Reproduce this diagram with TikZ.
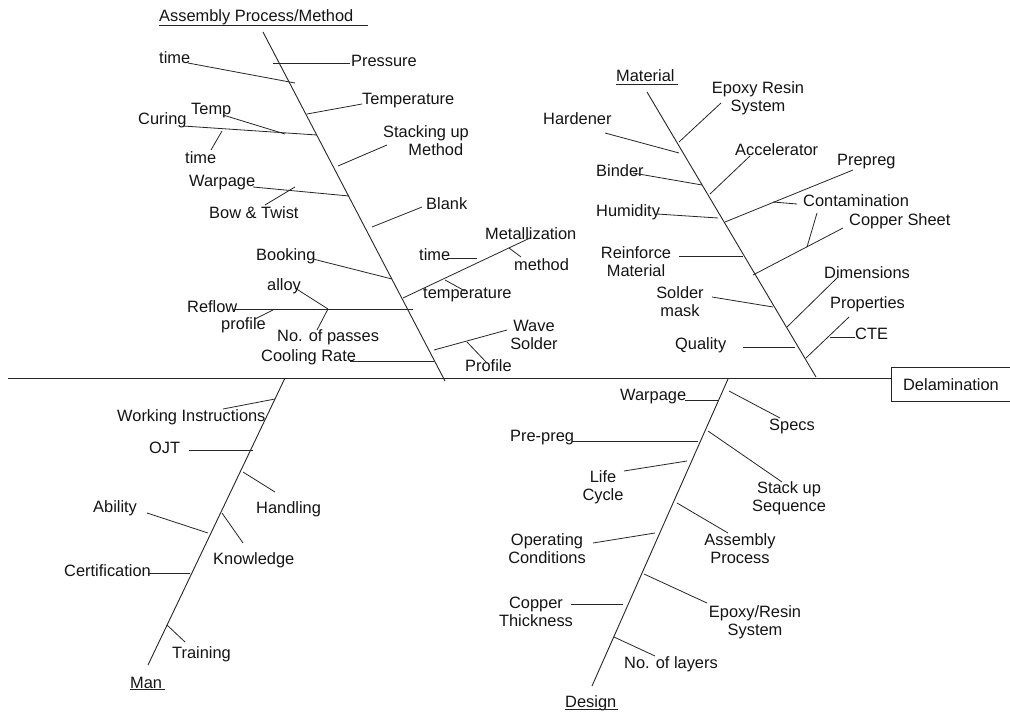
\documentclass[tikz,border=0pt]{standalone}
\usepackage{fontspec}
\setmainfont{Liberation Sans}
\begin{document}
\begin{tikzpicture}[x=1pt,y=-1pt,
  bone/.style={draw=black!85, line width=0.9pt},
  twig/.style={draw=black!85, line width=0.8pt},
  lbl/.style={inner sep=0pt, anchor=west, text=black!92, font=\fontsize{16.4}{18}\selectfont},
  lblc/.style={inner sep=0pt, anchor=center, align=center, text=black!92, font=\fontsize{16.4}{18}\selectfont}]
\useasboundingbox (0,0) rectangle (1010,712);
\fill[white] (0,0) rectangle (1010,712);

% head box and spine
\node[lblc] (head) at (951,385) {Delamination};
\draw[bone] (1012,367) -- (891,367) -- (891,401) -- (1012,401);
\coordinate (tail) at (8,378);
\coordinate (headL) at (891,378);
\draw[bone] (tail) -- (headL);

% ===== Assembly Process/Method =====
\node[lbl] (tAPM) at (159,17) {Assembly Process/Method};
\draw[twig] (159,25) -- (368,25);
\coordinate (apmTop) at (263,32);
\coordinate (apmBot) at (445,381);
\draw[bone] (apmTop) -- (apmBot);

\node[lbl] (time1) at (159,58) {time};
\draw[twig] (188,63) -- (295,83);
\node[lbl] (pressure) at (351,61) {Pressure};
\draw[twig] (273,63) -- (350,63);
\node[lbl] (temperature) at (362,101) {Temperature};
\draw[twig] (307,114) -- (362,104);
\node[lbl] (curing) at (138,120) {Curing};
\draw[twig] (183,126) -- (317,135);
\node[lbl] (temp) at (191,111) {Temp};
\draw[twig] (223,115) -- (285,134);
\node[lbl] (time2) at (185,158) {time};
\draw[twig] (222,131) -- (211,150);
\node[lblc] (stacking) at (426,141) {Stacking up\\\hspace*{1.2em}Method};
\draw[twig] (338,166) -- (387,145);
\node[lbl] (warpage1) at (189,183) {Warpage};
\draw[twig] (253,187) -- (349,196);
\node[lbl] (bow) at (209,213) {Bow \& Twist};
\draw[twig] (295,187) -- (265,205);
\node[lbl] (blank) at (426,204) {Blank};
\draw[twig] (372,227) -- (422,207);
\node[lbl] (booking) at (256,256) {Booking};
\draw[twig] (313,259) -- (392,279);
\node[lbl] (metal) at (485,234) {Metallization};
\draw[twig] (403,298) -- (530,238);
\node[lbl] (time3) at (419,255) {time};
\draw[twig] (447,258) -- (477,258);
\node[lbl] (method) at (514,265) {method};
\draw[twig] (509,248) -- (521,257);
\node[lbl] (temperature2) at (423,295) {temperature};
\draw[twig] (445,280) -- (465,291);
\node[lbl] (reflow) at (187,307) {Reflow};
\draw[twig] (233,309) -- (413,309);
\node[lbl] (alloy) at (267,286) {alloy};
\draw[twig] (295,288) -- (328,309);
\node[lbl] (passes) at (277,337) {No. of passes};
\draw[twig] (328,309) -- (317,330);
\node[lbl] (profile1) at (221,325) {profile};
\draw[twig] (273,310) -- (255,319);
\node[lblc] (wave) at (534,335) {Wave\\Solder};
\draw[twig] (434,350) -- (507,330);
\node[lbl] (profile2) at (465,366) {Profile};
\draw[twig] (467,342) -- (487,363);
\node[lbl] (cooling) at (261,357) {Cooling Rate};
\draw[twig] (350,361) -- (434,361);

% ===== Material =====
\node[lbl] (tMat) at (616,76) {Material};
\draw[twig] (616,84) -- (678,84);
\coordinate (matTop) at (647,92);
\coordinate (matBot) at (816,377);
\draw[bone] (matTop) -- (matBot);

\node[lblc] (epoxy) at (758,98) {Epoxy Resin\\System};
\draw[twig] (679,142) -- (721,103);
\node[lbl] (hardener) at (543,119) {Hardener};
\draw[twig] (605,133) -- (679,153);
\node[lbl] (accel) at (735,150) {Accelerator};
\draw[twig] (710,194) -- (750,156);
\node[lbl] (binder) at (596,171) {Binder};
\draw[twig] (633,173) -- (702,185);
\node[lbl] (prepreg) at (837,162) {Prepreg};
\draw[twig] (725,222) -- (853,170);
\node[lbl] (contam) at (803,201) {Contamination};
\draw[twig] (773,202) -- (797,204);
\node[lbl] (humidity) at (596,212) {Humidity};
\draw[twig] (657,214) -- (718,218);
\node[lbl] (copper) at (849,221) {Copper Sheet};
\draw[twig] (753,275) -- (843,228);
\draw[twig] (817,213) -- (807,247);
\node[lblc] (reinforce) at (636,262) {Reinforce\\Material};
\draw[twig] (679,256) -- (743,256);
\node[lblc] (solder) at (680,302) {Solder\\mask};
\draw[twig] (712,297) -- (773,307);
\node[lbl] (dims) at (824,273) {Dimensions};
\draw[twig] (787,327) -- (837,278);
\node[lbl] (props) at (830,304) {Properties};
\draw[twig] (806,358) -- (849,317);
\node[lbl] (cte) at (855,334) {CTE};
\draw[twig] (830,337) -- (855,337);
\node[lbl] (quality) at (675,345) {Quality};
\draw[twig] (743,347) -- (795,347);

% ===== Man =====
\node[lbl] (tMan) at (130,683) {Man};
\draw[twig] (130,689) -- (165,689);
\coordinate (manTop) at (285,378);
\coordinate (manBot) at (148,665);
\draw[bone] (manTop) -- (manBot);

\node[lbl] (wi) at (117,417) {Working Instructions};
\draw[twig] (223,409) -- (275,399);
\node[lbl] (ojt) at (149,448) {OJT};
\draw[twig] (189,450) -- (253,450);
\node[lbl] (handling) at (256,509) {Handling};
\draw[twig] (243,472) -- (275,492);
\node[lbl] (ability) at (93,508) {Ability};
\draw[twig] (147,513) -- (208,533);
\node[lbl] (knowledge) at (213,560) {Knowledge};
\draw[twig] (222,513) -- (243,543);
\node[lbl] (cert) at (64,571) {Certification};
\draw[twig] (148,573) -- (190,573);
\node[lbl] (training) at (172,654) {Training};
\draw[twig] (167,625) -- (185,642);

% ===== Design =====
\node[lbl] (tDes) at (565,703) {Design};
\draw[twig] (565,709) -- (618,709);
\coordinate (desTop) at (728,379);
\coordinate (desBot) at (592,686);
\draw[bone] (desTop) -- (desBot);

\node[lbl] (warpage2) at (620,397) {Warpage};
\draw[twig] (685,400) -- (718,400);
\node[lbl] (specs) at (769,426) {Specs};
\draw[twig] (729,391) -- (780,418);
\node[lbl] (prepreg2) at (510,438) {Pre-preg};
\draw[twig] (572,441) -- (698,441);
\node[lblc] (stackup) at (789,498) {Stack up\\Sequence};
\draw[twig] (708,431) -- (782,482);
\node[lblc] (life) at (603,487) {Life\\Cycle};
\draw[twig] (624,471) -- (687,461);
\node[lblc] (asmproc) at (740,549) {Assembly\\Process};
\draw[twig] (677,503) -- (728,533);
\node[lblc] (opcond) at (547,549) {Operating\\Conditions};
\draw[twig] (593,543) -- (655,533);
\node[lblc] (epoxy2) at (755,622) {Epoxy/Resin\\System};
\draw[twig] (644,574) -- (707,603);
\node[lblc] (copper2) at (536,612) {Copper\\Thickness};
\draw[twig] (571,604) -- (623,604);
\node[lbl] (layers) at (624,664) {No. of layers};
\draw[twig] (614,637) -- (655,656);
\end{tikzpicture}
\end{document}
